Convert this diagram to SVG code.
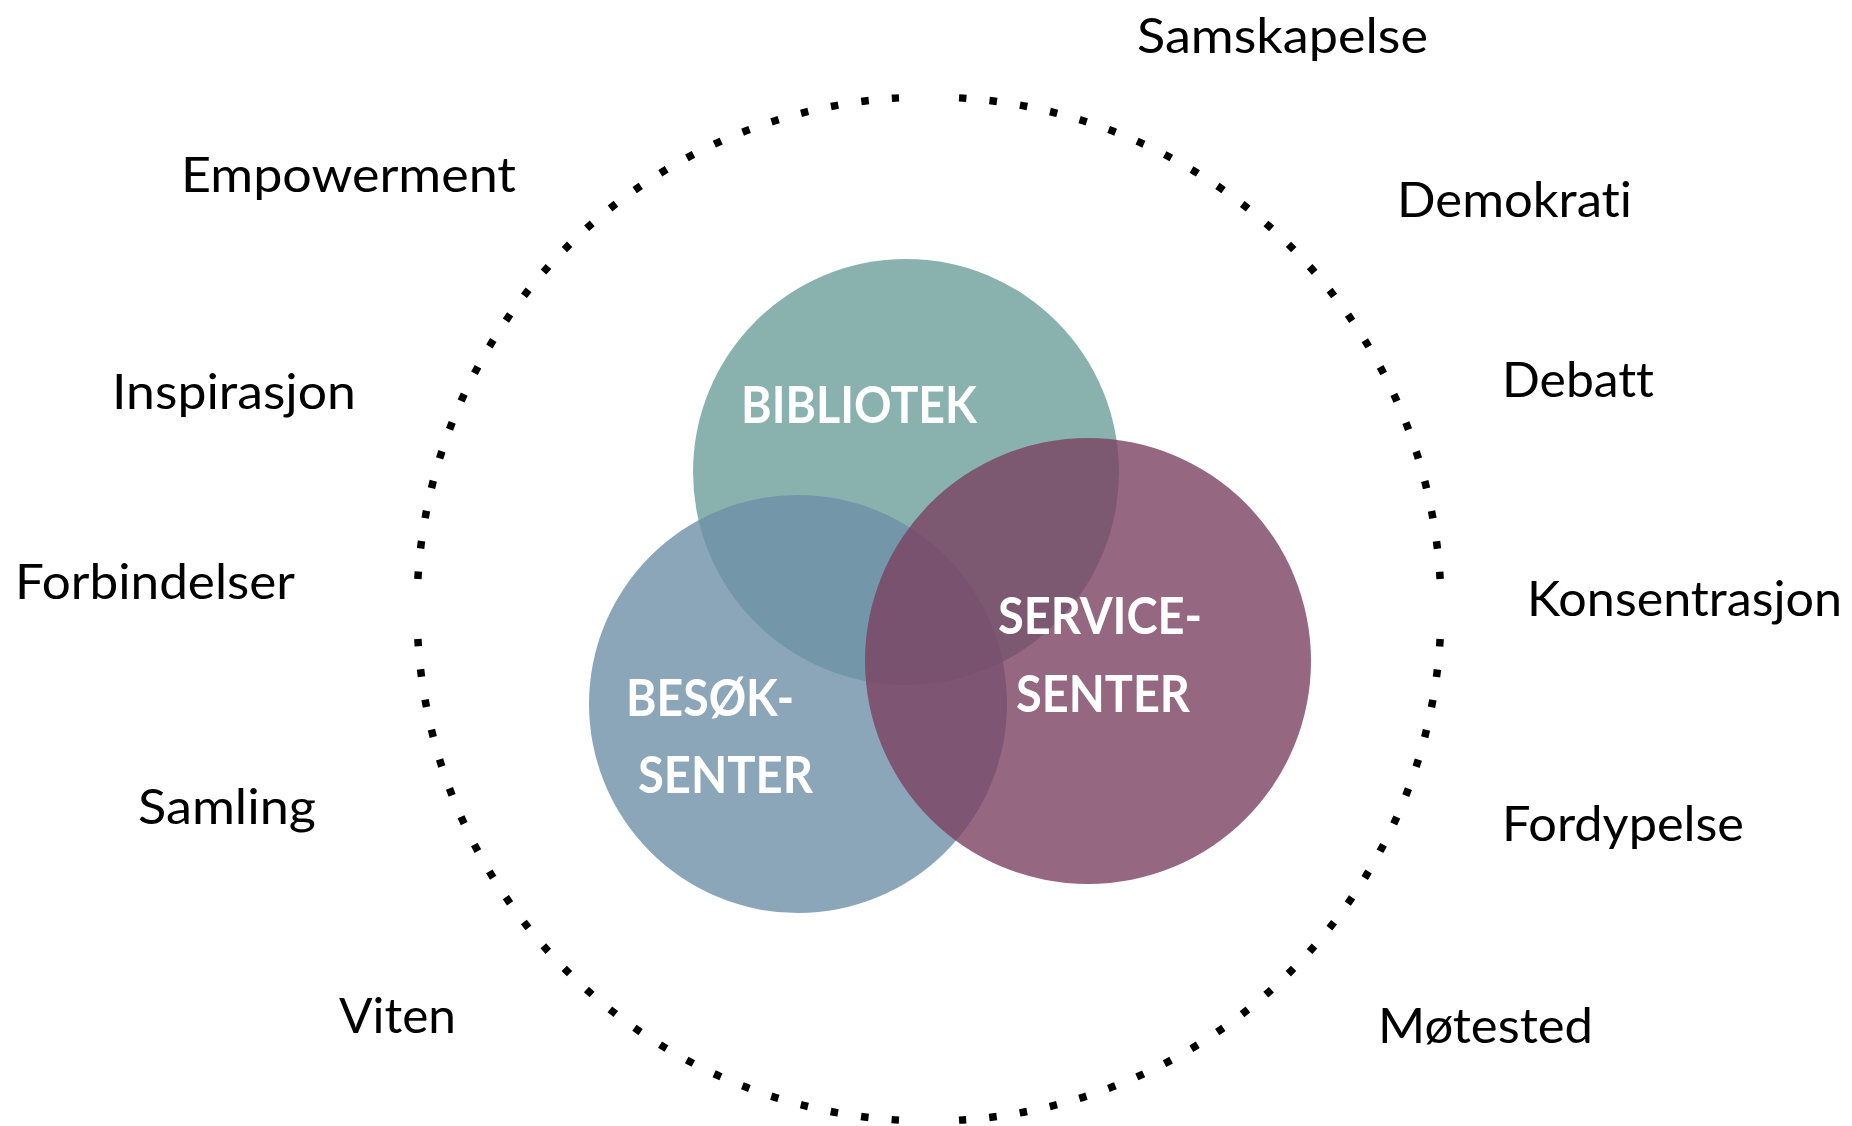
<svg xmlns="http://www.w3.org/2000/svg" width="1852" height="1126" viewBox="0 0 1852 1126">
<style>
.dots{fill:none;stroke:#000;stroke-width:7.5;stroke-dasharray:7.5 23.2;stroke-linecap:butt}
.lbl{font-family:Lato,"Open Sans","Liberation Sans",sans-serif;font-size:49px;fill:#000;font-variant-ligatures:none;font-feature-settings:"liga" 0,"dlig" 0}
.in{font-family:Lato,"Open Sans","Liberation Sans",sans-serif;font-size:51px;font-weight:bold;fill:#fff;font-variant-ligatures:none}
</style>
<rect width="1852" height="1126" fill="#fff"/>
<g id="ring">
<path class="dots" d="M1440.12 639.01 A512 512 0 0 1 959.01 1120.12"/>
<path class="dots" d="M898.99 1120.12 A512 512 0 0 1 417.88 639.01"/>
<path class="dots" d="M417.88 578.99 A512 512 0 0 1 898.99 97.88"/>
<path class="dots" d="M959.01 97.88 A512 512 0 0 1 1440.12 578.99"/>
</g>
<g id="bibliotek">
<circle cx="906" cy="472" r="213" fill="#6C9F9B" fill-opacity="0.8"/>
</g>
<g id="besok">
<circle cx="798" cy="704" r="209" fill="#6E90A8" fill-opacity="0.8"/>
</g>
<g id="service">
<circle cx="1088" cy="661" r="223" fill="#7A4161" fill-opacity="0.8"/>
</g>
<g id="labels-inner">
<text class="in" x="741" y="423" textLength="236" lengthAdjust="spacingAndGlyphs">BIBLIOTEK</text>
<text class="in" x="998" y="634" textLength="204" lengthAdjust="spacingAndGlyphs">SERVICE-</text>
<text class="in" x="1016" y="712" textLength="174" lengthAdjust="spacingAndGlyphs">SENTER</text>
<text class="in" x="626" y="716" textLength="168" lengthAdjust="spacingAndGlyphs">BESØK-</text>
<text class="in" x="638" y="793" textLength="175" lengthAdjust="spacingAndGlyphs">SENTER</text>
</g>
<g id="labels-outer">
<text class="lbl" x="1137" y="53" textLength="291" lengthAdjust="spacingAndGlyphs">Samskapelse</text>
<text class="lbl" x="181" y="192" textLength="335" lengthAdjust="spacingAndGlyphs">Empowerment</text>
<text class="lbl" x="1397" y="217" textLength="235" lengthAdjust="spacingAndGlyphs">Demokrati</text>
<text class="lbl" x="112" y="409" textLength="244" lengthAdjust="spacingAndGlyphs">Inspirasjon</text>
<text class="lbl" x="1502" y="397" textLength="152" lengthAdjust="spacingAndGlyphs">Debatt</text>
<text class="lbl" x="15" y="599" textLength="280" lengthAdjust="spacingAndGlyphs">Forbindelser</text>
<text class="lbl" x="1527" y="616" textLength="315" lengthAdjust="spacingAndGlyphs">Konsentrasjon</text>
<text class="lbl" x="138" y="824" textLength="178" lengthAdjust="spacingAndGlyphs">Samling</text>
<text class="lbl" x="1502" y="841" textLength="242" lengthAdjust="spacingAndGlyphs">Fordypelse</text>
<text class="lbl" x="339" y="1033" textLength="117" lengthAdjust="spacingAndGlyphs">Viten</text>
<text class="lbl" x="1378" y="1043" textLength="215" lengthAdjust="spacingAndGlyphs">Møtested</text>
</g>
</svg>
